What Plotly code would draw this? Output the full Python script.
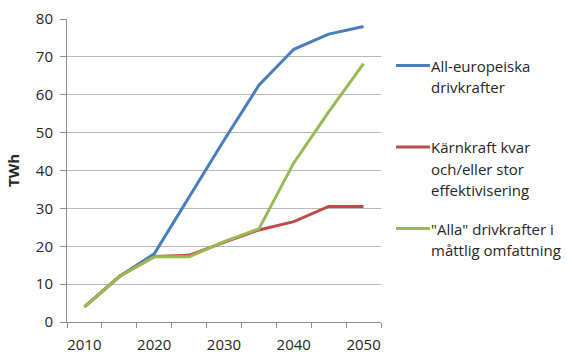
import plotly.graph_objects as go

# Scenario data (TWh)
years = [2010, 2015, 2020, 2025, 2030, 2035, 2040, 2045, 2050]
all_european = [4, 12, 18, 33, 48, 62.5, 72, 76, 78]
nuclear_efficiency = [4, 12, 17.3, 17.6, 21, 24.3, 26.5, 30.5, 30.5]
all_moderate = [4, 12, 17.2, 17.2, 21.2, 24.6, 42, 55.5, 68.2]

series_names = [
    ["All-europeiska", "drivkrafter"],
    ["Kärnkraft kvar", "och/eller stor", "effektivisering"],
    ['"Alla" drivkrafter i', "måttlig omfattning"],
]
series_values = [all_european, nuclear_efficiency, all_moderate]
colors = ["#4a7ebb", "#be4b48", "#98b954"]
y_ticks = [0, 10, 20, 30, 40, 50, 60, 70, 80]
x_labels = [2010, 2020, 2030, 2040, 2050]

W, H = 567, 354
L, R, T, B = 67, 186, 19, 32
plot_w = W - L - R
plot_h = H - T - B
FONT = "Open Sans, Liberation Sans, sans-serif"
TEXT = "#262626"


def px_x(px):
    return (px - L) / plot_w


def px_y(py):
    return (H - B - py) / plot_h


fig = go.Figure()
for name, vals, col in zip(series_names, series_values, colors):
    fig.add_trace(go.Scatter(
        x=years, y=vals, mode="lines", name=" ".join(name),
        line=dict(color=col, width=3), showlegend=False,
    ))

# Legend drawn beside the plot: short swatch + wrapped label lines
legend_rows = [65.5, 147, 228.5]
line_gap = 21.5
annotations = []
shapes = []
for name, col, y0 in zip(series_names, colors, legend_rows):
    shapes.append(dict(
        type="line", xref="paper", yref="paper",
        x0=px_x(396), x1=px_x(430), y0=px_y(y0), y1=px_y(y0),
        line=dict(color=col, width=3),
    ))
    for i, txt in enumerate(name):
        annotations.append(dict(
            text=txt, xref="paper", yref="paper",
            x=px_x(429), y=px_y(y0 + i * line_gap),
            xanchor="left", yanchor="middle", showarrow=False,
            font=dict(family=FONT, size=15, color=TEXT),
        ))

fig.update_layout(
    width=W, height=H,
    margin=dict(l=L, r=R, t=T, b=B),
    paper_bgcolor="white", plot_bgcolor="white",
    font=dict(family=FONT, size=15, color=TEXT),
    showlegend=False,
    annotations=annotations,
    shapes=shapes,
    xaxis=dict(
        range=[2007.5, 2052.5], automargin=False,
        tickvals=x_labels, ticktext=[str(v) for v in x_labels],
        ticks="", showgrid=False, zeroline=False,
        showline=True, linecolor="#8c8c8c", linewidth=1,
        minor=dict(tick0=2007.5, dtick=5, ticks="outside", ticklen=5,
                   tickcolor="#8c8c8c", showgrid=False),
        ticklabelstandoff=9,
        tickfont=dict(size=15),
    ),
    yaxis=dict(
        range=[0, 80], tickvals=y_ticks, automargin=False,
        ticks="outside", ticklen=6, tickcolor="#8c8c8c",
        showgrid=True, gridcolor="#b8b8b8", gridwidth=1,
        zeroline=False, showline=True, linecolor="#8c8c8c", linewidth=1,
        ticklabelstandoff=4,
        title=dict(text="<b>TWh</b>", standoff=12,
                   font=dict(family=FONT, size=15, color=TEXT)),
    ),
)

fig.write_html("out.html")
